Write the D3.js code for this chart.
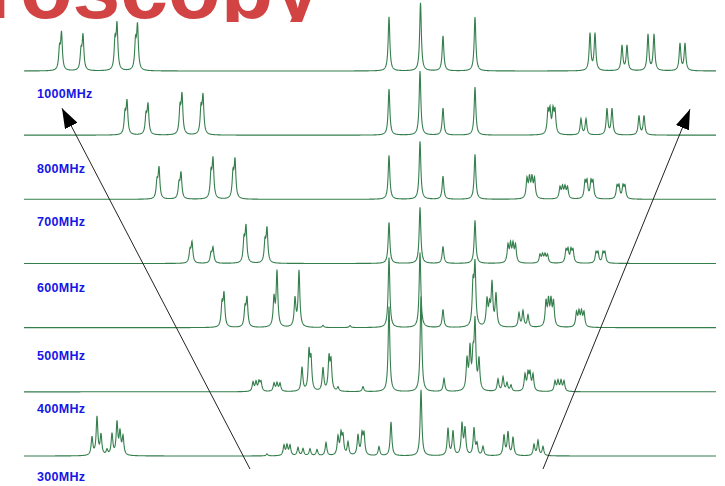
<!DOCTYPE html>
<html lang="en">
<head>
<meta charset="UTF-8">
<title>NMR field strength</title>
<script src="https://d3js.org/d3.v7.min.js"></script>
<style>
  body { margin: 0; background: #fff; }
  svg { display: block; }
</style>
</head>
<body>
<div id="chart"></div>
<script>
// field strengths, top spectrum first
const fields = ["1000MHz", "800MHz", "700MHz", "600MHz", "500MHz", "400MHz", "300MHz"];

// peak lists: [offset in Hz, intensity a.u.]
const peaks1000 = [[-721,20],[-717,36],[-678,18],[-674,34],[-610,28],[-606,44],[-569,27],[-565,43],
  [-62,54],[1,68],[46,35],[110,54],
  [340,37],[350,37],[404,25],[414,25],[456,36],[468,36],[520,27],[530,27]];
const peaks800 = [[-590,20],[-586,32],[-548,18],[-544,29],[-480,25],[-476,38],[-438,25],[-434,37],
  [-62,46],[0,64],[46,27],[110,48],
  [256,22],[260,22],[266,22],[270,22],[322,16],[332,16],[374,26],[384,26],[438,19],[448,19]];
const peaks700 = [[-526,16],[-522,30],[-482,14],[-478,25],[-418,24],[-414,38],[-374,24],[-370,37],
  [-62,44],[0,58],[46,23],[110,45],
  [214,19],[219,19],[224,19],[229,19],[280,11],[285,11],[290,11],[295,11],
  [330,16],[334,16],[342,16],[346,16],[394,12],[398,12],[406,12],[410,12]];
const peaks600 = [[-460,12],[-456,20],[-418,9],[-414,15],[-352,22],[-348,35],[-310,20],[-306,33],
  [-62,41],[0,56],[46,17],[110,43],
  [176,17],[181,17],[186,17],[191,17],[240,8],[245,8],[250,8],[255,8],
  [292,12],[296,12],[302,12],[306,12],[352,10],[356,10],[366,10],[370,10]];
const peaks500 = [[-396,22],[-392,32],[-350,18],[-346,28],[-292,28],[-286,55],[-250,28],[-242,56],
  [-194,2],[-140,2],
  [-62,70],[0,75],[46,18],[106,40],[110,60],
  [134,26],[139,18],[144,42],[152,32],[198,14],[206,16],[216,12],
  [252,24],[257,24],[262,24],[267,24],[313,14],[318,14],[323,14],[328,14]];
const peaks400 = [[-334,9],[-328,9],[-322,9],[-318,9],[-292,8],[-286,8],[-280,8],
  [-236,24],[-222,38],[-218,30],[-194,23],[-182,32],[-178,28],[-164,4],[-114,5],
  [-62,85],[2,95],[48,13],
  [94,30],[100,40],[106,30],[110,66],[118,30],[156,12],[166,14],[174,8],[182,6],
  [210,16],[216,16],[220,16],[226,16],[270,10],[276,10],[282,10],[288,10]];
const peaks300 = [[-656,18],[-646,38],[-638,20],[-626,5],[-616,21],[-606,32],[-600,22],[-594,18],
  [-306,2],[-272,10],[-266,10],[-260,10],[-244,8],[-234,7],[-220,7],[-206,6],[-188,13],
  [-164,18],[-158,20],[-154,18],[-144,13],[-124,20],[-116,20],[-112,20],[-82,9],[-58,34],
  [2,66],
  [56,27],[66,24],[84,31],[90,26],[108,27],[114,11],[126,9],[168,20],[176,23],[186,18],
  [228,11],[236,15],[246,9]];
const spectra = [peaks1000, peaks800, peaks700, peaks600, peaks500, peaks400, peaks300];

// label baseline below each spectrum (px)
const labelDy = [26.7, 37.7, 26.7, 28.7, 32, 21.3, 24.7];

// arrows: [Hz, field row, intensity] from -> to
const arrows = [
  {from: [-340, "300MHz", -13], to: [-716, "800MHz", 27]},
  {from: [246, "300MHz", -13], to: [540, "800MHz", 26]}
];

const W = 725, H = 486;
const HW = 2; // half width at half height, Hz

const x = d3.scaleLinear().domain([-792, 592]).range([24, 716]);
const row = d3.scalePoint().domain(fields).range([71, 456]);
const amp = d3.scaleLinear().domain([0, 100]).range([0, 100]);

const svg = d3.select("#chart").append("svg")
  .attr("width", W).attr("height", H);

// title (lower part hidden behind the figure)
svg.append("clipPath").attr("id", "titleClip")
  .append("rect").attr("x", 0).attr("y", 0).attr("width", W).attr("height", 22);
svg.append("text")
  .attr("clip-path", "url(#titleClip)")
  .attr("x", 321).attr("y", 18)
  .attr("text-anchor", "end")
  .attr("font-family", "'Liberation Sans', Arial, sans-serif")
  .attr("font-weight", "bold")
  .attr("font-size", 86)
  .attr("fill", "#d24444")
  .text("Spectroscopy");

const grid = d3.range(-792, 592.01, 0.5);
const shape = peaks => grid.map(f => [f, d3.sum(peaks, p => p[1] / (1 + ((f - p[0]) / HW) ** 2))]);

spectra.forEach((peaks, i) => {
  const y0 = row(fields[i]);
  const line = d3.line().x(d => x(d[0])).y(d => y0 - amp(d[1]));
  svg.append("path")
    .datum(shape(peaks))
    .attr("fill", "none")
    .attr("stroke", "#357f4d")
    .attr("stroke-width", 1.1)
    .attr("d", line);
});

// arrows
svg.append("defs").append("marker")
  .attr("id", "head")
  .attr("markerUnits", "userSpaceOnUse")
  .attr("viewBox", "0 0 20 14")
  .attr("markerWidth", 20).attr("markerHeight", 14)
  .attr("refX", 20).attr("refY", 7)
  .attr("orient", "auto")
  .append("path").attr("d", "M0,0 L20,7 L0,14 Z").attr("fill", "#000");

svg.selectAll(".arrow")
  .data(arrows)
  .join("line")
  .attr("class", "arrow")
  .attr("x1", d => x(d.from[0])).attr("y1", d => row(d.from[1]) - amp(d.from[2]))
  .attr("x2", d => x(d.to[0])).attr("y2", d => row(d.to[1]) - amp(d.to[2]))
  .attr("stroke", "#222")
  .attr("stroke-width", 1)
  .attr("marker-end", "url(#head)");

// field labels
svg.selectAll(".label")
  .data(fields)
  .join("text")
  .attr("class", "label")
  .attr("x", 37)
  .attr("y", (d, i) => row(d) + labelDy[i])
  .attr("font-family", "'Liberation Sans', Arial, sans-serif")
  .attr("font-weight", "bold")
  .attr("font-size", 12.5)
  .attr("letter-spacing", 0.3)
  .attr("fill", "#1616e6")
  .text(d => d);
</script>
</body>
</html>
